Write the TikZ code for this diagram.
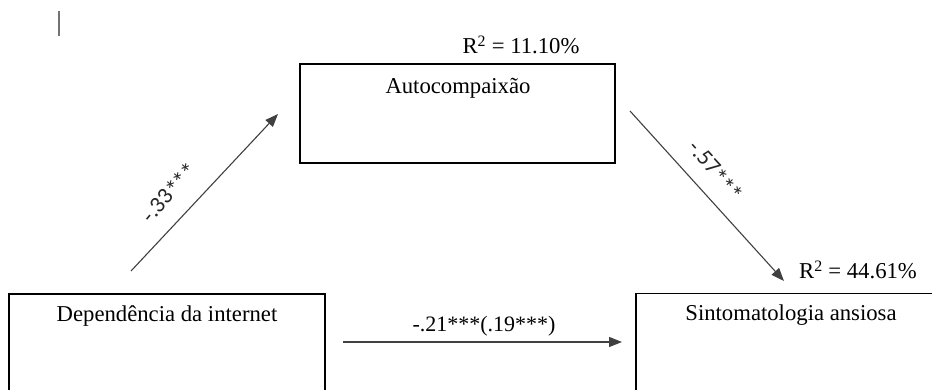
\documentclass[tikz,border=0pt]{standalone}
\usepackage{fontspec}
\setmainfont{Liberation Serif}
\newfontfamily\lblfont{Carlito}
\usetikzlibrary{arrows.meta}
\newcommand\lowstars{\raisebox{-0.18em}{\scalebox{1.1}{*\kern-0.04em*\kern-0.04em*}}}
\begin{document}
\begin{tikzpicture}[x=1pt,y=-1pt,
  boxst/.style={draw=black,line width=1.6pt,minimum width=#1,minimum height=110pt,inner sep=0pt},
  txt/.style={font=\fontsize{22.7}{26}\selectfont,inner sep=0pt},
  rlbl/.style={font=\lblfont\fontsize{23}{26}\selectfont,inner sep=0pt,text=black!85},
  arr/.style={draw=black!75,line width=1.1pt,-{Triangle[length=13pt,width=10pt]}}]
\useasboundingbox (0,0) rectangle (932,390);
% cursor bar
\draw[black!55,line width=1.6pt] (59,11) -- (59,36);
% boxes
\node[boxst=315pt,minimum height=99pt] (auto) at (457.5,113.5) {};
\node[boxst=316pt] (dep) at (167,349) {};
\node[boxst=310pt] (sint) at (791,348.5) {};
% texts in boxes
\node[txt] (tauto) at (458,88) {Autocompaixão};
\node[txt] (tdep) at (167,316) {Dependência da internet};
\node[txt] (tsint) at (791,315) {Sintomatologia ansiosa};
% R2 labels
\node[txt] (r1) at (521,45) {R\textsuperscript{2} = 11.10\%};
\node[txt] (r2) at (858,270) {R\textsuperscript{2} = 44.61\%};
% arrow end points
\coordinate (a1s) at (131,271);
\coordinate (a1e) at (278,114);
\coordinate (a2s) at (630,111);
\coordinate (a2e) at (784,281);
\coordinate (a3s) at (343,342);
\coordinate (a3e) at (622,342);
\draw[arr] (a1s) -- (a1e);
\draw[arr] (a2s) -- (a2e);
\draw[arr] (a3s) -- (a3e);
% path labels
\node[rlbl,rotate=50] (l1) at (170,193) {-.33\lowstars};
\node[rlbl,rotate=-47.7] (l2) at (715,172) {-.57\lowstars};
\node[font=\fontsize{22}{26}\selectfont,inner sep=0pt] (l3) at (484,326) {-.21***(.19***)};
\end{tikzpicture}
\end{document}
